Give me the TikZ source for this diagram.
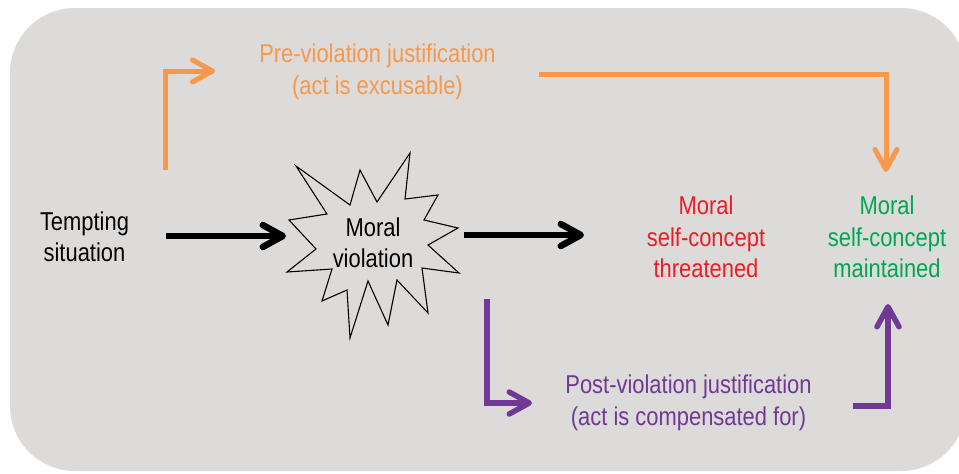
\documentclass[tikz,border=0pt]{standalone}
\usepackage{fontspec}
\setmainfont{Liberation Sans}[FakeStretch=0.85]
\usetikzlibrary{arrows.meta}
\definecolor{bgc}{HTML}{DCDBD9}
\definecolor{orangec}{HTML}{F7984A}
\definecolor{purplec}{HTML}{703996}
\definecolor{redc}{HTML}{ED1C24}
\definecolor{greenc}{HTML}{00A651}
\begin{document}
\begin{tikzpicture}[x=1pt,y=-1pt,
  txt/.style={align=center,font=\fontsize{25.8}{31.5}\selectfont,inner sep=0pt},
  barb/.style={-{Straight Barb[length=20pt,width=22pt,round]}},
  oline/.style={draw=orangec,line width=5pt,barb},
  pline/.style={draw=purplec,line width=5.5pt,barb},
  kline/.style={draw=black,line width=6.5pt,barb}]
\useasboundingbox (0,0) rectangle (959,474);
\fill[white] (0,0) rectangle (959,474);
\fill[bgc,rounded corners=65pt] (10,8) rectangle (966,471);
% star
\draw[black,line width=1.1pt,fill=bgc,line join=miter]
 (296,166) -- (350,205) -- (360,170) -- (377,202) -- (410,153) -- (405,199)
 -- (438,195) -- (424,220) -- (458,228) -- (428,245) -- (459,273) -- (422,268)
 -- (428,313) -- (397,280) -- (388,325) -- (368,281) -- (350,338) -- (347,290)
 -- (322,301) -- (332,269) -- (287,272) -- (316,249) -- (289,220) -- (327,214) -- cycle;
% texts
\node[txt] (tempt) at (84.5,237) {Tempting\\situation};
\node[txt] (viol) at (373,243) {Moral\\violation};
\node[txt,text=orangec] (pre) at (377.5,72) {Pre-violation justification\\(act is excusable)};
\node[txt,text=redc] (thr) at (706,237) {Moral\\self-concept\\threatened};
\node[txt,text=greenc] (main) at (887,237) {Moral\\self-concept\\maintained};
\node[txt,text=purplec] (post) at (688.5,403) {Post-violation justification\\(act is compensated for)};
% arrow end points
\coordinate (o1s) at (165,170);
\coordinate (o1e) at (215,71);
\coordinate (o2s) at (539,74.5);
\coordinate (o2e) at (886,172);
\coordinate (k1s) at (166,236);
\coordinate (k1e) at (286,236);
\coordinate (k2s) at (464,235);
\coordinate (k2e) at (584,235);
\coordinate (p1s) at (487,299);
\coordinate (p1e) at (532,403);
\coordinate (p2s) at (853,406);
\coordinate (p2e) at (888,304);
% arrows
\draw[oline] (o1s) |- (o1e);
\draw[oline] (o2s) -| (o2e);
\draw[kline] (k1s) -- (k1e);
\draw[kline] (k2s) -- (k2e);
\draw[pline] (p1s) |- (p1e);
\draw[pline] (p2s) -| (p2e);
\end{tikzpicture}
\end{document}
